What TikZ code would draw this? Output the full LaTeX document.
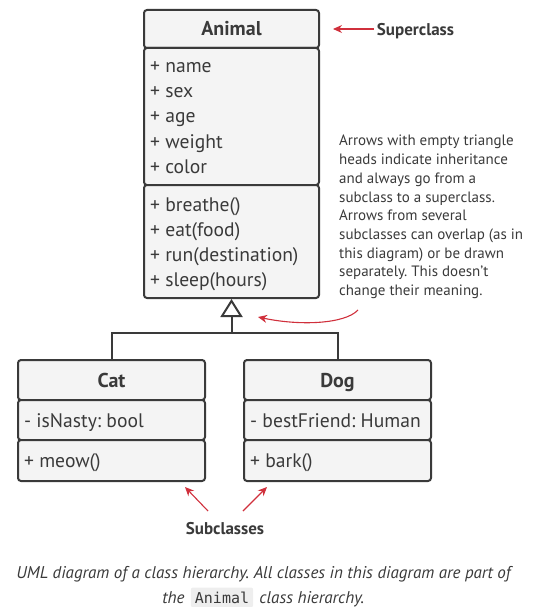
\documentclass[tikz,border=0pt]{standalone}
\usepackage{fontspec}
\setmainfont{PT Sans}
\setmonofont{DejaVu Sans Mono}
\usepackage{xcolor}
\usetikzlibrary{arrows.meta}
\usetikzlibrary{positioning}
\frenchspacing

\definecolor{ink}{HTML}{3A3A3A}
\definecolor{boxfill}{HTML}{F4F4F4}
\definecolor{guru}{HTML}{D0303C}
\definecolor{codebg}{HTML}{EEEEEE}

\tikzset{
  section/.style={draw=ink, fill=boxfill, line width=2pt, rounded corners=3pt, inner sep=0pt},
  title/.style={font=\fontsize{20}{20}\selectfont\bfseries, text=ink, anchor=base},
  member/.style={font=\fontsize{19.6}{20}\selectfont, text=ink, anchor=base west, inner sep=0pt},
  remark/.style={font=\fontsize{15}{15}\selectfont, text=ink, anchor=base west, inner sep=0pt},
  tag/.style={font=\fontsize{17}{17}\selectfont\bfseries, text=ink, anchor=base, inner sep=0pt},
  note/.style={draw=guru, line width=1.1pt, -{Stealth[length=9pt, width=8pt]}},
  inherit/.style={draw=ink, line width=2pt, -{Triangle[open, length=18pt, width=22pt]}},
}

\begin{document}
\begin{tikzpicture}[x=1pt, y=-1pt]
    \useasboundingbox (0,0) rectangle (534,607);

    % superclass
    \node[section, minimum width=175pt, minimum height=38pt] (animal-head) at (231.5,29) {};
    \node[section, minimum width=175pt, minimum height=137pt] (animal-attr) at (231.5,116.5) {};
    \node[section, minimum width=175pt, minimum height=113pt] (animal-ops) at (231.5,241.5) {};
    \node[title] at (231.5,36) {Animal};
    \node[member] at (150,73) {+ name};
    \node[member] at (150,98) {+ sex};
    \node[member] at (150,123) {+ age};
    \node[member] at (150,148) {+ weight};
    \node[member] at (150,173) {+ color};
    \node[member] at (150,211) {+ breathe()};
    \node[member] at (150,236) {+ eat(food)};
    \node[member] at (150,261) {+ run(destination)};
    \node[member] at (150,286) {+ sleep(hours)};

    % subclasses
    \node[section, minimum width=187pt, minimum height=40pt] (cat-head) at (111.5,380) {};
    \node[section, minimum width=187pt, minimum height=40pt] (cat-attr) at (111.5,420) {};
    \node[section, minimum width=187pt, minimum height=41pt] (cat-ops) at (111.5,460.5) {};
    \node[title] at (111.5,387) {Cat};
    \node[member] at (24,427) {- isNasty: bool};
    \node[member] at (24,467) {+ meow()};

    \node[section, minimum width=187pt, minimum height=40pt] (dog-head) at (337.5,380) {};
    \node[section, minimum width=187pt, minimum height=40pt] (dog-attr) at (337.5,420) {};
    \node[section, minimum width=187pt, minimum height=41pt] (dog-ops) at (337.5,460.5) {};
    \node[title] at (337.5,387) {Dog};
    \node[member] at (250,427) {- bestFriend: Human};
    \node[member] at (250,467) {+ bark()};

    % inheritance
    \coordinate (fork) at (231.5,333);
    \draw[draw=ink, line width=2pt] (cat-head.north) |- (fork) -| (dog-head.north);
    \draw[inherit] (fork) -- (animal-ops.south);

    % notes
    \node[tag] (super-tag) at (415.5,36) {Superclass};
    \coordinate (super-tip) at (333,29);
    \coordinate (super-tail) at (374,29);
    \draw[note] (super-tail) -- (super-tip);

    \node[remark] (rem1) at (339,146) {Arrows with empty triangle};
    \node[remark] (rem2) at (339,164.7) {heads indicate inheritance};
    \node[remark] (rem3) at (339,183.4) {and always go from a};
    \node[remark] (rem4) at (339,202.1) {subclass to a superclass.};
    \node[remark] (rem5) at (339,220.8) {Arrows from several};
    \node[remark] (rem6) at (339,239.5) {subclasses can overlap (as in};
    \node[remark] (rem7) at (339,258.2) {this diagram) or be drawn};
    \node[remark] (rem8) at (339,276.9) {separately. This doesn't};
    \node[remark] (rem9) at (339,295.6) {change their meaning.};
    \coordinate (rem-tail) at (358,310);
    \coordinate (rem-tip) at (258,317);
    \draw[note] (rem-tail) .. controls (345,324) and (300,326) .. (rem-tip);

    \node[tag] (sub-tag) at (225,534) {Subclasses};
    \coordinate (cat-tip) at (185,487);
    \coordinate (dog-tip) at (267,487);
    \coordinate (cat-tail) at (208,511);
    \coordinate (dog-tail) at (243,511);
    \draw[note] (cat-tail) -- (cat-tip);
    \draw[note] (dog-tail) -- (dog-tip);

    % caption
    \node[font=\fontsize{17}{17}\selectfont\itshape, text=ink, anchor=base] (cap1) at (263.5,578) {UML diagram of a class hierarchy. All classes in this diagram are part of};
    \node[fill=codebg, rounded corners=2pt, font=\fontsize{15}{15}\selectfont\ttfamily, text=ink, anchor=base, inner xsep=4pt, inner ysep=4pt] (cap-code) at (222,603) {Animal};
    \node[font=\fontsize{17}{17}\selectfont\itshape, text=ink, anchor=base east, inner sep=0pt] (cap2) at ([xshift=-6pt]cap-code.base west) {the};
    \node[font=\fontsize{17}{17}\selectfont\itshape, text=ink, anchor=base west, inner sep=0pt] (cap3) at ([xshift=6pt]cap-code.base east) {class hierarchy.};
\end{tikzpicture}
\end{document}
